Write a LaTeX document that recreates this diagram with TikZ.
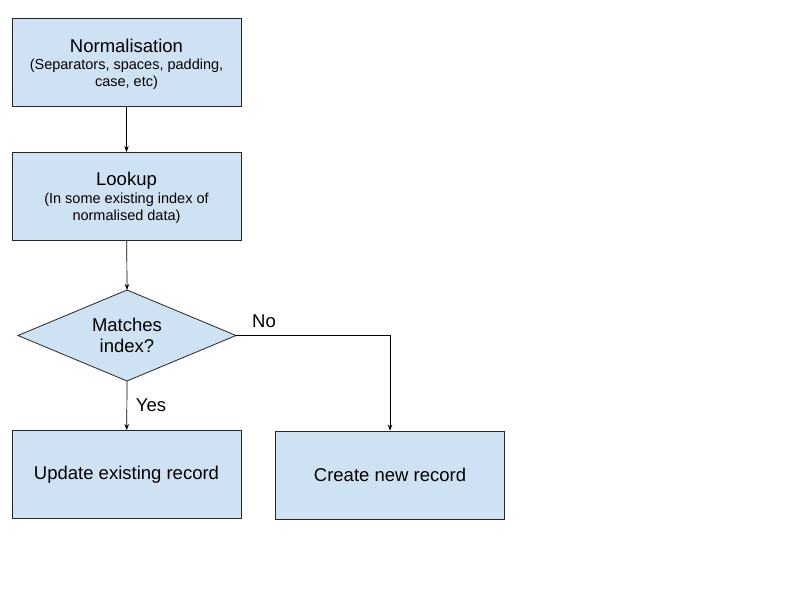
\documentclass[tikz,border=0pt]{standalone}
\usepackage{fontspec}
\setmainfont{Liberation Sans}
\usetikzlibrary{arrows.meta}
\definecolor{boxfill}{HTML}{CFE2F3}
\begin{document}
\begin{tikzpicture}[x=1pt,y=-1pt,
  box/.style={draw=black!85,fill=boxfill,line width=0.8pt,minimum width=229pt,minimum height=88pt,align=center,inner sep=0pt},
  arr/.style={draw=black,line width=0.7pt,-{Stealth[length=6pt,width=4.5pt]}},
  big/.style={font=\fontsize{18.5}{22}\selectfont,inner sep=0pt},
  sm/.style={font=\fontsize{14.5}{17}\selectfont,inner sep=0pt}]
\useasboundingbox[fill=white] (0,0) rectangle (800,600);
\node[box] (n) at (126.5,62) {};
\node[big] (nt) at (126.5,46) {Normalisation};
\node[sm] (ns1) at (126.5,66) {(Separators, spaces, padding,};
\node[sm] (ns2) at (126.5,83) {case, etc)};
\node[box] (l) at (126.5,196.5) {};
\node[big] (lt) at (126.5,181) {Lookup};
\node[sm] (ls1) at (126.5,200) {(In some existing index of};
\node[sm] (ls2) at (126.5,217) {normalised data)};
\path[draw=black!85,fill=boxfill,line width=0.8pt] (18,335.5) coordinate (dl) -- (127,290) coordinate (dt) -- (236,335.5) coordinate (dr) -- (127,381) coordinate (db) -- cycle;
\node[big] (dt1) at (127,325) {Matches};
\node[big] (dt2) at (127,346) {index?};
\node[box,big] (u) at (126.5,474.5) {Update existing record};
\node[box,big] (c) at (390,475) {Create new record};
\draw[arr] (n) -- (l);
\draw[arr] (l) -- (dt);
\draw[arr] (db) -- (u);
\draw[arr] (dr) -| (c);
\node[big] (no) at (264,321) {No};
\node[big] (yes) at (151,405) {Yes};
\end{tikzpicture}
\end{document}
